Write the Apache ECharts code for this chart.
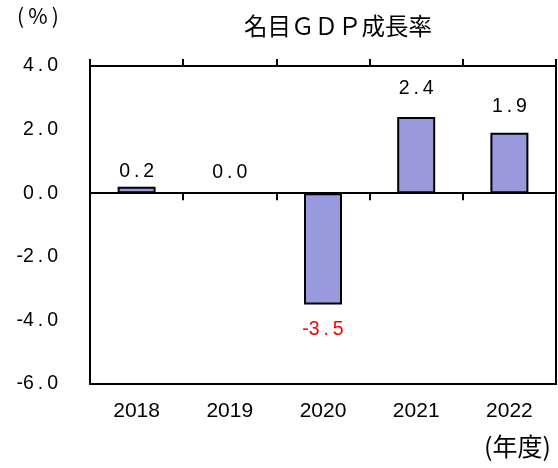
<!DOCTYPE html>
<html><head><meta charset="utf-8">
<script src="https://cdn.jsdelivr.net/npm/echarts@6/dist/echarts.min.js"></script>
<style>html,body{margin:0;padding:0;background:#fff}#c{width:558px;height:468px}</style>
</head><body><div id="c"></div>
<script>
var categories = ['2018', '2019', '2020', '2021', '2022'];
var values = [0.2, 0.0, -3.5, 2.4, 1.9];
var labelTexts = ['0.2', '0.0', '-3.5', '2.4', '1.9'];
var yTicks = [-6, -4, -2, 0, 2, 4];

var spaced = function (s) { return s.replace('.', '\u2009.\u2009'); };
var dists = [5, 11, 15, 18, 16];
var data = values.map(function (v, i) {
  var d = {
    value: v,
    label: {
      show: true,
      position: v < 0 ? 'bottom' : 'top',
      distance: dists[i],
      color: v < 0 ? '#ff0000' : '#000',
      formatter: spaced(labelTexts[i])
    }
  };
  if (v === 0) d.itemStyle = { borderWidth: 0, color: 'transparent' };
  return d;
});
var font = '"Liberation Sans", Arial, sans-serif';
var chart = echarts.init(document.getElementById('c'));
chart.setOption({
  animation: false,
  grid: { left: 90, right: 2, top: 66, bottom: 84, show: true, borderColor: '#000', borderWidth: 2, backgroundColor: 'transparent' },
  title: {
    text: '名目ＧＤＰ成長率', left: 333, top: 9, textAlign: 'center',
    textStyle: { fontFamily: '"Noto Sans CJK JP", sans-serif', fontSize: 23.5, fontWeight: 'normal', color: '#000' }
  },
  graphic: [
    { type: 'text', left: 17, top: 6, style: { text: '(\u2009%\u2009)', font: '21px "Noto Sans CJK JP", sans-serif', fill: '#000' } },
    { type: 'text', right: 7, top: 434, style: { text: '(年度)', font: '25px "Noto Sans CJK JP", sans-serif', fill: '#000' } }
  ],
  xAxis: [
    { type: 'category', data: categories, position: 'bottom', axisLine: { onZero: true, lineStyle: { color: '#000', width: 2 } },
      axisTick: { show: true, alignWithLabel: false, length: 7, lineStyle: { color: '#000', width: 2 } }, axisLabel: { show: false } },
    { type: 'category', data: categories, position: 'top', axisLine: { onZero: true, lineStyle: { color: '#000', width: 2 } },
      axisTick: { show: true, alignWithLabel: false, length: 7, lineStyle: { color: '#000', width: 2 } }, axisLabel: { show: false } },
    { type: 'category', data: categories, position: 'bottom', axisLine: { show: false, onZero: false }, axisTick: { show: false },
      axisLabel: { show: true, margin: 17, color: '#000', fontSize: 21, fontFamily: font } }
  ],
  yAxis: {
    type: 'value', min: -6, max: 4, interval: 2,
    axisLine: { show: true, lineStyle: { color: '#000', width: 2 } },
    axisTick: { show: false }, splitLine: { show: false },
    axisLabel: { color: '#000', fontSize: 19.5, fontFamily: font, margin: 32,
      formatter: function (v) { return yTicks.indexOf(v) >= 0 ? spaced(v.toFixed(1)) : ''; } }
  },
  series: [{
    type: 'bar', xAxisIndex: 0, data: data, barWidth: 38,
    itemStyle: { color: '#9999dd', borderColor: '#000', borderWidth: 2 },
    label: { fontSize: 19.5, fontFamily: font }
  }]
});
</script></body></html>
